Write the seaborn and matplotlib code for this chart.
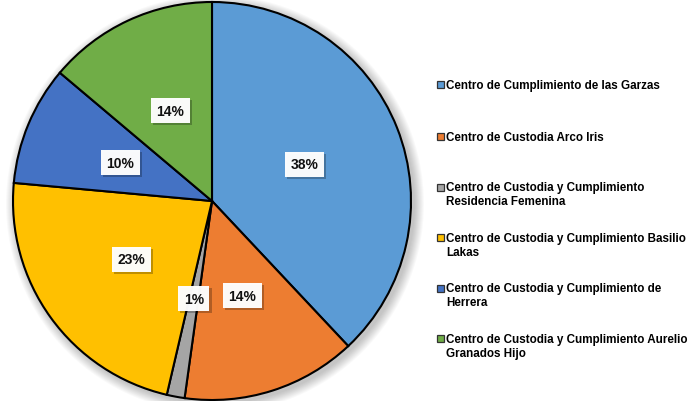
import matplotlib
matplotlib.use("Agg")
import matplotlib.pyplot as plt
import matplotlib.patheffects as pe
from matplotlib.patches import Circle, Rectangle
import seaborn as sns

# data (share of each centre, %)
centros = [
    "Centro de Cumplimiento de las Garzas",
    "Centro de Custodia Arco Iris",
    "Centro de Custodia y Cumplimiento\nResidencia Femenina",
    "Centro de Custodia y Cumplimiento Basilio\nLakas",
    "Centro de Custodia y Cumplimiento de\nHerrera",
    "Centro de Custodia y Cumplimiento Aurelio\nGranados Hijo",
]
porcentajes = [38.0, 14.2, 1.45, 22.8, 9.7, 13.85]
colores = ["#5B9BD5", "#ED7D31", "#A5A5A5", "#FFC000", "#4472C4", "#70AD47"]

sns.set_theme(style="white")
plt.rcParams["font.family"] = ["Liberation Sans", "DejaVu Sans"]

fig = plt.figure(figsize=(6.94, 4.02), dpi=100)
W, H = 694, 402
cx, cy, r = 212, 202, 199
ax = fig.add_axes([(cx - r) / W, (H - cy - r) / H, 2 * r / W, 2 * r / H])

# soft shadow around the pie
for k in range(10):
    ax.add_patch(Circle((0.015, -0.015), 1.0 + 0.005 * (k + 1), color="black",
                        alpha=0.022, lw=0, zorder=0, clip_on=False))

wedges, _, autotexts = ax.pie(
    porcentajes,
    colors=colores,
    startangle=90,
    counterclock=False,
    autopct=lambda p: f"{p:.0f}%",
    pctdistance=0.5,
    radius=1.0,
    wedgeprops=dict(edgecolor="black", linewidth=1.5),
    textprops=dict(fontsize=10, fontweight="bold", color="#111111"),
)
for t in autotexts:
    t.set_bbox(dict(boxstyle="square,pad=0.4", facecolor="white", alpha=0.82,
                    edgecolor="none"))
    t.get_bbox_patch().set_path_effects(
        [pe.withSimplePatchShadow(offset=(1.5, -1.5), shadow_rgbFace="black", alpha=0.25),
         pe.Normal()])
for w in wedges:
    w.set_zorder(2)

ax.set_xlim(-1, 1)
ax.set_ylim(-1, 1)
ax.set_aspect("equal")
ax.axis("off")

# legend, drawn by hand so the marker sits on the first line of each entry
y0, paso = 87, 50.5
for i, (nombre, color) in enumerate(zip(centros, colores)):
    y = y0 + i * paso + (-2 if i == 0 else 0)
    fig.patches.append(Rectangle((437 / W, 1 - (y + 3.5) / H), 7 / W, 7 / H,
                                 transform=fig.transFigure, facecolor=color,
                                 edgecolor="#333333", linewidth=0.9))
    fig.text(446 / W, 1 - (y - 5.5) / H, nombre, fontsize=8.4, fontweight="bold",
             color="black", va="top", ha="left", linespacing=1.2)

fig.savefig("out.png", dpi=100)
